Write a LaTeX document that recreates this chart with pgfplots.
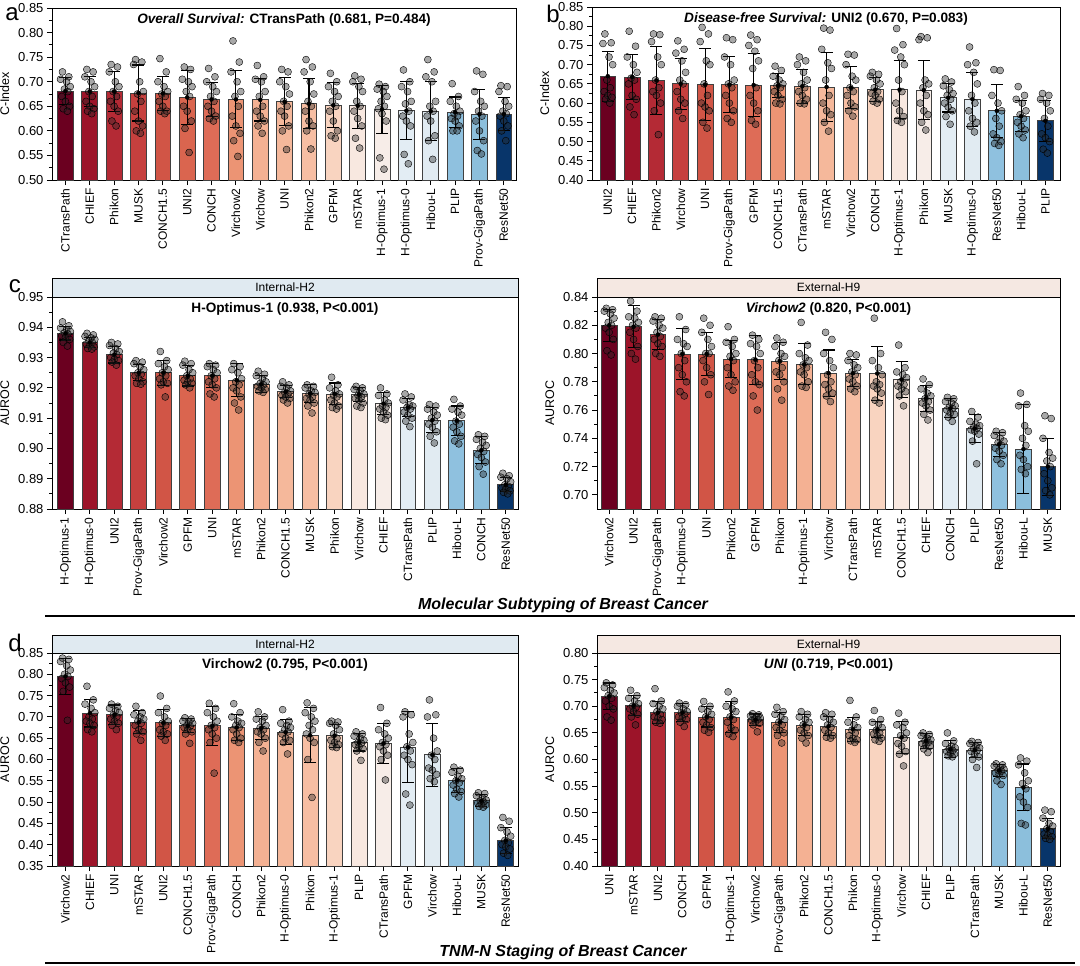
\documentclass[border=0pt]{standalone}
\usepackage{fontspec}
\setmainfont{Liberation Sans}
\usepackage{pgfplots}
\usepackage{pgfplotstable}
\pgfplotsset{compat=1.18}

% rank colours, dark red -> dark blue
\definecolor{c0}{HTML}{6B0020}
\definecolor{c1}{HTML}{9C1429}
\definecolor{c2}{HTML}{B42A35}
\definecolor{c3}{HTML}{C6403E}
\definecolor{c4}{HTML}{D15546}
\definecolor{c5}{HTML}{DA654F}
\definecolor{c6}{HTML}{DE6C57}
\definecolor{c7}{HTML}{EC9474}
\definecolor{c8}{HTML}{F4B193}
\definecolor{c9}{HTML}{F5B89B}
\definecolor{c10}{HTML}{F7BEA3}
\definecolor{c11}{HTML}{F9D4C0}
\definecolor{c12}{HTML}{F8E8E0}
\definecolor{c13}{HTML}{F7EDE8}
\definecolor{c14}{HTML}{E3EDF4}
\definecolor{c15}{HTML}{E1EBF2}
\definecolor{c16}{HTML}{8FC1DF}
\definecolor{c17}{HTML}{8CBFDC}
\definecolor{c18}{HTML}{08356A}
\definecolor{stripblue}{HTML}{E0EAF1}
\definecolor{strippeach}{HTML}{F5E8E2}

% m = mean, e = sd, p1..p12 = single runs
\pgfplotstableread{
m e p1 p2 p3 p4 p5 p6 p7 p8 p9 p10 p11 p12
0.681 0.027 0.72 0.71 0.705 0.70 0.69 0.685 0.68 0.67 0.66 0.65 0.645 0.64
0.680 0.030 0.725 0.72 0.71 0.70 0.69 0.68 0.67 0.66 0.65 0.645 0.64 0.635
0.680 0.040 0.735 0.73 0.72 0.70 0.69 0.68 0.67 0.66 0.65 0.64 0.62 0.61
0.677 0.057 0.745 0.74 0.735 0.70 0.68 0.675 0.66 0.64 0.62 0.61 0.60 0.595
0.676 0.035 0.747 0.72 0.70 0.69 0.68 0.675 0.67 0.66 0.65 0.64 0.64 0.635
0.668 0.055 0.73 0.725 0.705 0.70 0.69 0.68 0.67 0.65 0.64 0.62 0.605 0.556
0.664 0.034 0.727 0.71 0.70 0.69 0.68 0.67 0.66 0.65 0.64 0.63 0.625 0.62
0.664 0.058 0.783 0.74 0.72 0.70 0.68 0.67 0.65 0.63 0.61 0.595 0.58 0.548
0.663 0.043 0.733 0.71 0.705 0.70 0.68 0.67 0.65 0.64 0.63 0.62 0.61 0.595
0.659 0.049 0.725 0.72 0.70 0.69 0.675 0.66 0.65 0.64 0.63 0.61 0.60 0.562
0.655 0.051 0.745 0.73 0.72 0.70 0.675 0.66 0.65 0.64 0.62 0.61 0.60 0.563
0.652 0.046 0.717 0.70 0.69 0.68 0.67 0.66 0.65 0.64 0.62 0.60 0.59 0.585
0.651 0.046 0.712 0.705 0.70 0.69 0.68 0.66 0.65 0.64 0.625 0.61 0.585 0.565
0.644 0.049 0.695 0.69 0.685 0.68 0.67 0.66 0.65 0.645 0.635 0.62 0.545 0.522
0.641 0.059 0.724 0.70 0.69 0.68 0.66 0.655 0.64 0.63 0.62 0.61 0.552 0.533
0.640 0.060 0.745 0.72 0.71 0.70 0.66 0.65 0.64 0.63 0.62 0.59 0.58 0.542
0.638 0.031 0.696 0.67 0.66 0.65 0.64 0.635 0.63 0.625 0.62 0.61 0.60 0.60
0.634 0.051 0.722 0.715 0.68 0.66 0.65 0.64 0.63 0.62 0.60 0.58 0.56 0.553
0.634 0.033 0.692 0.69 0.68 0.66 0.65 0.64 0.635 0.63 0.62 0.61 0.60 0.58
}\ta

\pgfplotstableread{
m e p1 p2 p3 p4 p5 p6 p7 p8 p9 p10 p11 p12
0.670 0.065 0.78 0.757 0.755 0.72 0.70 0.66 0.64 0.63 0.62 0.615 0.61 0.60
0.668 0.058 0.787 0.748 0.72 0.70 0.68 0.665 0.66 0.65 0.62 0.61 0.59 0.57
0.659 0.089 0.78 0.778 0.76 0.72 0.70 0.66 0.64 0.63 0.62 0.60 0.58 0.518
0.650 0.066 0.762 0.74 0.73 0.71 0.68 0.66 0.65 0.63 0.61 0.60 0.58 0.56
0.648 0.094 0.797 0.78 0.76 0.71 0.70 0.65 0.62 0.60 0.59 0.58 0.55 0.535
0.648 0.073 0.77 0.765 0.72 0.70 0.66 0.65 0.64 0.62 0.60 0.58 0.56 0.55
0.647 0.081 0.777 0.765 0.75 0.735 0.71 0.69 0.64 0.62 0.60 0.58 0.555 0.545
0.645 0.031 0.696 0.685 0.67 0.66 0.65 0.645 0.64 0.63 0.62 0.61 0.60 0.598
0.644 0.044 0.72 0.71 0.70 0.68 0.66 0.65 0.64 0.63 0.62 0.61 0.60 0.598
0.642 0.090 0.795 0.79 0.74 0.705 0.69 0.66 0.62 0.60 0.58 0.57 0.55 0.527
0.640 0.055 0.727 0.725 0.70 0.67 0.66 0.64 0.63 0.62 0.60 0.59 0.58 0.566
0.635 0.031 0.68 0.675 0.67 0.66 0.65 0.64 0.63 0.625 0.62 0.61 0.605 0.60
0.635 0.076 0.794 0.752 0.738 0.72 0.70 0.66 0.63 0.60 0.58 0.565 0.555 0.55
0.634 0.077 0.773 0.77 0.765 0.66 0.65 0.64 0.62 0.60 0.58 0.57 0.55 0.53
0.614 0.037 0.663 0.655 0.645 0.635 0.625 0.62 0.61 0.60 0.59 0.58 0.565 0.545
0.610 0.070 0.746 0.705 0.70 0.68 0.65 0.62 0.60 0.58 0.56 0.55 0.54 0.525
0.580 0.069 0.687 0.685 0.62 0.60 0.58 0.56 0.54 0.52 0.51 0.50 0.495 0.49
0.566 0.040 0.643 0.62 0.61 0.60 0.58 0.57 0.56 0.55 0.54 0.53 0.52 0.51
0.554 0.053 0.625 0.62 0.61 0.60 0.58 0.56 0.54 0.52 0.51 0.50 0.48 0.47
}\tb

\pgfplotstableread{
m e p1 p2 p3 p4 p5 p6 p7 p8 p9 p10 p11 p12
0.938 0.0022 0.9418 0.9405 0.9398 0.9392 0.9386 0.9382 0.9378 0.9372 0.9366 0.9360 0.9350 0.9338
0.935 0.0017 0.938 0.9375 0.937 0.9365 0.936 0.9355 0.935 0.9345 0.934 0.9335 0.933 0.9328
0.931 0.0028 0.935 0.9345 0.934 0.933 0.932 0.9315 0.931 0.930 0.9295 0.929 0.9285 0.9275
0.925 0.0027 0.929 0.9285 0.928 0.927 0.926 0.925 0.9245 0.924 0.923 0.922 0.9215 0.9212
0.925 0.0041 0.932 0.929 0.928 0.927 0.926 0.925 0.924 0.923 0.922 0.9215 0.921 0.917
0.924 0.0034 0.9288 0.928 0.9275 0.926 0.925 0.924 0.923 0.9225 0.922 0.9215 0.921 0.920
0.924 0.0040 0.928 0.9275 0.927 0.926 0.925 0.924 0.923 0.922 0.921 0.920 0.918 0.917
0.9225 0.0055 0.928 0.927 0.926 0.925 0.923 0.922 0.921 0.920 0.919 0.917 0.915 0.9127
0.9212 0.0028 0.9255 0.9245 0.924 0.923 0.922 0.9215 0.921 0.9205 0.920 0.9195 0.919 0.9185
0.9187 0.0020 0.922 0.921 0.9205 0.920 0.919 0.9185 0.918 0.9175 0.917 0.9165 0.916 0.915
0.9181 0.0029 0.921 0.9205 0.920 0.919 0.9185 0.918 0.917 0.9165 0.916 0.915 0.914 0.9117
0.9180 0.0036 0.9235 0.921 0.920 0.919 0.918 0.9175 0.917 0.916 0.915 0.914 0.9135 0.913
0.9178 0.0024 0.9205 0.920 0.9195 0.919 0.918 0.9175 0.917 0.9165 0.916 0.915 0.914 0.9135
0.9148 0.0036 0.920 0.918 0.9175 0.916 0.915 0.914 0.9135 0.913 0.912 0.911 0.910 0.9095
0.9135 0.0031 0.918 0.917 0.916 0.9145 0.914 0.9135 0.913 0.912 0.911 0.910 0.909 0.9072
0.9094 0.0042 0.9145 0.914 0.913 0.912 0.911 0.910 0.909 0.908 0.907 0.9055 0.904 0.9018
0.9091 0.0049 0.9162 0.914 0.913 0.912 0.911 0.909 0.908 0.907 0.9055 0.904 0.9025 0.9015
0.8994 0.0045 0.9045 0.904 0.903 0.902 0.901 0.900 0.899 0.898 0.897 0.8955 0.894 0.8915
0.8880 0.0023 0.8918 0.891 0.8905 0.890 0.889 0.888 0.8875 0.887 0.8865 0.886 0.8855 0.885
}\tc

\pgfplotstableread{
m e p1 p2 p3 p4 p5 p6 p7 p8 p9 p10 p11 p12
0.8200 0.0114 0.832 0.831 0.83 0.828 0.825 0.822 0.82 0.818 0.815 0.81 0.802 0.799
0.8190 0.0148 0.837 0.83 0.826 0.825 0.822 0.82 0.818 0.815 0.81 0.805 0.80 0.796
0.8134 0.0105 0.826 0.825 0.823 0.82 0.818 0.815 0.812 0.81 0.807 0.805 0.80 0.798
0.7997 0.0180 0.826 0.817 0.81 0.807 0.805 0.80 0.795 0.79 0.785 0.78 0.773 0.77
0.7997 0.0155 0.825 0.82 0.815 0.81 0.805 0.80 0.80 0.795 0.79 0.785 0.78 0.771
0.7961 0.0131 0.819 0.81 0.808 0.805 0.80 0.798 0.795 0.79 0.785 0.78 0.777 0.774
0.7956 0.0173 0.813 0.81 0.807 0.805 0.80 0.795 0.79 0.785 0.78 0.778 0.77 0.76
0.7947 0.0128 0.811 0.808 0.805 0.80 0.798 0.795 0.79 0.787 0.785 0.78 0.775 0.767
0.7923 0.0145 0.822 0.806 0.80 0.797 0.795 0.792 0.79 0.787 0.785 0.78 0.777 0.776
0.7861 0.0164 0.815 0.81 0.80 0.795 0.79 0.785 0.78 0.778 0.775 0.772 0.77 0.766
0.7861 0.0094 0.80 0.799 0.795 0.792 0.79 0.787 0.785 0.782 0.78 0.777 0.775 0.773
0.7859 0.0189 0.825 0.80 0.795 0.79 0.785 0.78 0.778 0.777 0.775 0.772 0.767 0.765
0.7816 0.0125 0.806 0.79 0.787 0.785 0.783 0.78 0.778 0.777 0.775 0.773 0.77 0.763
0.7683 0.0094 0.782 0.778 0.775 0.772 0.77 0.768 0.766 0.765 0.763 0.76 0.757 0.753
0.7612 0.0067 0.769 0.768 0.766 0.765 0.763 0.762 0.761 0.76 0.758 0.757 0.755 0.752
0.7469 0.0098 0.759 0.755 0.752 0.75 0.749 0.748 0.747 0.746 0.745 0.743 0.738 0.722
0.7359 0.0085 0.745 0.744 0.742 0.74 0.738 0.737 0.735 0.733 0.731 0.728 0.725 0.722
0.7324 0.0316 0.772 0.764 0.763 0.749 0.745 0.74 0.735 0.728 0.725 0.72 0.718 0.715
0.7200 0.0202 0.756 0.754 0.74 0.73 0.726 0.724 0.72 0.715 0.71 0.705 0.703 0.70
}\td

\pgfplotstableread{
m e p1 p2 p3 p4 p5 p6 p7 p8 p9 p10 p11 p12
0.795 0.0415 0.838 0.835 0.83 0.82 0.81 0.80 0.795 0.79 0.78 0.77 0.76 0.692
0.709 0.0326 0.772 0.74 0.73 0.72 0.71 0.70 0.695 0.69 0.685 0.68 0.67 0.665
0.705 0.0230 0.73 0.725 0.72 0.715 0.71 0.705 0.70 0.695 0.69 0.685 0.68 0.67
0.688 0.0270 0.725 0.71 0.705 0.70 0.695 0.69 0.685 0.68 0.67 0.665 0.66 0.645
0.686 0.0317 0.749 0.72 0.71 0.70 0.69 0.685 0.68 0.67 0.665 0.66 0.655 0.645
0.679 0.0163 0.698 0.695 0.69 0.688 0.685 0.68 0.678 0.675 0.67 0.665 0.66 0.638
0.679 0.0456 0.732 0.72 0.71 0.70 0.69 0.68 0.675 0.67 0.66 0.65 0.64 0.568
0.675 0.0310 0.731 0.71 0.70 0.69 0.685 0.68 0.675 0.67 0.66 0.65 0.645 0.64
0.674 0.0280 0.712 0.70 0.695 0.69 0.68 0.675 0.67 0.665 0.66 0.65 0.64 0.62
0.664 0.0290 0.717 0.69 0.685 0.68 0.675 0.67 0.665 0.66 0.65 0.645 0.64 0.613
0.657 0.0650 0.733 0.72 0.71 0.70 0.69 0.68 0.67 0.66 0.65 0.64 0.60 0.511
0.656 0.0270 0.69 0.688 0.685 0.68 0.67 0.66 0.65 0.645 0.64 0.635 0.63 0.628
0.640 0.0200 0.665 0.66 0.655 0.65 0.645 0.64 0.638 0.635 0.63 0.625 0.62 0.598
0.638 0.0468 0.722 0.685 0.67 0.66 0.65 0.64 0.635 0.63 0.62 0.61 0.60 0.552
0.629 0.0837 0.712 0.705 0.70 0.66 0.64 0.63 0.62 0.61 0.60 0.588 0.519 0.493
0.611 0.0738 0.74 0.705 0.70 0.65 0.62 0.61 0.60 0.58 0.575 0.565 0.555 0.548
0.551 0.0286 0.582 0.575 0.57 0.56 0.555 0.55 0.545 0.54 0.53 0.525 0.52 0.512
0.503 0.0143 0.522 0.52 0.515 0.51 0.505 0.503 0.50 0.498 0.495 0.493 0.49 0.488
0.410 0.0302 0.464 0.455 0.44 0.43 0.42 0.41 0.405 0.40 0.395 0.39 0.38 0.375
}\te

\pgfplotstableread{
m e p1 p2 p3 p4 p5 p6 p7 p8 p9 p10 p11 p12
0.7190 0.0246 0.744 0.74 0.735 0.73 0.725 0.72 0.715 0.71 0.70 0.695 0.68 0.674
0.7010 0.0186 0.73 0.72 0.715 0.71 0.705 0.70 0.698 0.695 0.69 0.685 0.68 0.665
0.6883 0.0200 0.733 0.71 0.705 0.70 0.695 0.69 0.685 0.68 0.678 0.675 0.67 0.668
0.6883 0.0170 0.706 0.703 0.70 0.695 0.69 0.688 0.685 0.68 0.678 0.675 0.67 0.662
0.6800 0.0190 0.709 0.70 0.695 0.69 0.685 0.68 0.675 0.67 0.665 0.66 0.655 0.651
0.6794 0.0290 0.727 0.71 0.70 0.695 0.69 0.68 0.675 0.67 0.66 0.655 0.648 0.643
0.6750 0.0104 0.686 0.684 0.682 0.68 0.678 0.676 0.675 0.673 0.67 0.668 0.665 0.652
0.6700 0.0187 0.698 0.69 0.685 0.68 0.675 0.67 0.665 0.66 0.655 0.65 0.645 0.631
0.6649 0.0193 0.69 0.685 0.68 0.675 0.67 0.665 0.66 0.655 0.65 0.645 0.64 0.631
0.6624 0.0180 0.688 0.685 0.68 0.675 0.67 0.665 0.66 0.655 0.65 0.645 0.642 0.64
0.6567 0.0224 0.711 0.68 0.67 0.665 0.66 0.655 0.65 0.645 0.64 0.637 0.635 0.632
0.6560 0.0150 0.692 0.675 0.67 0.665 0.66 0.655 0.65 0.648 0.645 0.64 0.637 0.634
0.6415 0.0300 0.687 0.67 0.665 0.66 0.65 0.645 0.64 0.63 0.625 0.615 0.61 0.588
0.6346 0.0136 0.65 0.647 0.645 0.64 0.637 0.635 0.632 0.63 0.627 0.625 0.62 0.613
0.6194 0.0155 0.65 0.635 0.63 0.625 0.622 0.62 0.617 0.615 0.612 0.61 0.607 0.605
0.6176 0.0142 0.634 0.632 0.63 0.625 0.622 0.62 0.617 0.615 0.61 0.605 0.60 0.585
0.5796 0.0114 0.592 0.59 0.588 0.585 0.582 0.58 0.578 0.575 0.572 0.57 0.56 0.553
0.5475 0.0440 0.603 0.597 0.59 0.575 0.56 0.555 0.545 0.53 0.52 0.51 0.48 0.477
0.4700 0.0186 0.505 0.502 0.49 0.48 0.475 0.47 0.465 0.46 0.458 0.455 0.452 0.45
}\tf

% horizontal spread of the single runs around each bar
\newcommand\jit[1]{\ifcase#1\or-0.12\or0.14\or-0.20\or0.05\or0.20\or-0.04\or0.10\or-0.15\or0.00\or0.17\or-0.09\or0.08\fi}

\newcommand\bars[1]{%
  \pgfplotsinvokeforeach{0,...,18}{
    \addplot[ybar, bar width=0.65, bar shift=0pt, fill=c##1, draw=black!75, line width=0.8pt]
      table[x expr=\coordindex, y=m, restrict x to domain=##1:##1]{#1};
  }
  \pgfplotsinvokeforeach{1,...,12}{
    \addplot[only marks, mark=*, mark size=3.5pt, mark options={draw=none, fill=black!85, fill opacity=0.4}]
      table[x expr=\coordindex+(\jit{##1}), y=p##1]{#1};
  }
  \addplot[only marks, mark=none, error bars/.cd, y dir=both, y explicit,
    error bar style={line width=1.1pt, black},
    error mark options={rotate=90, mark size=6pt, line width=1.1pt, black}]
    table[x expr=\coordindex, y=m, y error=e]{#1};
}

\newcommand\ptitle[1]{\node[anchor=north, font=\bfseries\fontsize{13.6}{15}\selectfont, inner sep=0pt]
  at ([yshift=-5pt]rel axis cs:0.5,1) {#1};}

\pgfplotsset{
  fm/.style={
    scale only axis, anchor=south west, clip=false,
    xmin=-0.55, xmax=18.5, xtick={0,...,18},
    tick align=outside, xtick pos=left, ytick pos=left,
    major tick length=5pt, minor tick length=3pt, minor y tick num=1,
    axis line style={line width=1pt}, tick style={black, line width=0.9pt},
    x tick label style={rotate=90, anchor=east, font=\fontsize{12}{12}\selectfont},
    y tick label style={font=\fontsize{13}{13}\selectfont},
    yticklabel style={/pgf/number format/.cd, fixed, fixed zerofill, precision=2},
    /pgf/number format/assume math mode=true,
    ylabel style={font=\fontsize{12.5}{13}\selectfont, yshift=2pt},
  },
}

\begin{document}
\begin{tikzpicture}
\useasboundingbox (0,0) rectangle (1080pt,-966pt);

% a
\begin{axis}[fm, at={(52pt,-180pt)}, width=464pt, height=172pt,
  ymin=0.5, ymax=0.85, ytick={0.5,0.55,0.6,0.65,0.7,0.75,0.8,0.85}, ylabel={C-Index},
  xticklabels={CTransPath,CHIEF,Phikon,MUSK,CONCH1.5,UNI2,CONCH,Virchow2,Virchow,UNI,Phikon2,GPFM,mSTAR,H-Optimus-1,H-Optimus-0,Hibou-L,PLIP,Prov-GigaPath,ResNet50}]
\bars{\ta}
\ptitle{\textit{Overall Survival:} CTransPath (0.681, P=0.484)}
\end{axis}

% b
\begin{axis}[fm, at={(592pt,-180pt)}, width=468pt, height=173pt, xmin=-0.65, xmax=18.6,
  ymin=0.4, ymax=0.85, ytick={0.4,0.45,0.5,0.55,0.6,0.65,0.7,0.75,0.8,0.85}, ylabel={C-Index},
  xticklabels={UNI2,CHIEF,Phikon2,Virchow,UNI,Prov-GigaPath,GPFM,CONCH1.5,CTransPath,mSTAR,Virchow2,CONCH,H-Optimus-1,Phikon,MUSK,H-Optimus-0,ResNet50,Hibou-L,PLIP}]
\bars{\tb}
\ptitle{\textit{Disease-free Survival:} UNI2 (0.670, P=0.083)}
\end{axis}

% c, internal
\begin{axis}[fm, at={(52pt,-509pt)}, width=466pt, height=212pt,
  ymin=0.88, ymax=0.95, ytick={0.88,0.89,0.9,0.91,0.92,0.93,0.94,0.95}, ylabel={AUROC},
  xticklabels={H-Optimus-1,H-Optimus-0,UNI2,Prov-GigaPath,Virchow2,GPFM,UNI,mSTAR,Phikon2,CONCH1.5,MUSK,Phikon,Virchow,CHIEF,CTransPath,PLIP,Hibou-L,CONCH,ResNet50}]
\bars{\tc}
\ptitle{H-Optimus-1 (0.938, P<0.001)}
\end{axis}

% c, external
\begin{axis}[fm, at={(597pt,-509pt)}, width=463pt, height=212pt, xmin=-0.5, xmax=18.5,
  ymin=0.69, ymax=0.84, ytick={0.7,0.72,0.74,0.76,0.78,0.8,0.82,0.84}, ylabel={AUROC},
  xticklabels={Virchow2,UNI2,Prov-GigaPath,H-Optimus-0,UNI,Phikon2,GPFM,Phikon,H-Optimus-1,Virchow,CTransPath,mSTAR,CONCH1.5,CHIEF,CONCH,PLIP,ResNet50,Hibou-L,MUSK}]
\bars{\td}
\ptitle{\textit{Virchow2} (0.820, P<0.001)}
\end{axis}

% d, internal
\begin{axis}[fm, at={(52pt,-866pt)}, width=466pt, height=213pt,
  ymin=0.35, ymax=0.85, ytick={0.35,0.4,0.45,0.5,0.55,0.6,0.65,0.7,0.75,0.8,0.85}, ylabel={AUROC},
  xticklabels={Virchow2,CHIEF,UNI,mSTAR,UNI2,CONCH1.5,Prov-GigaPath,CONCH,Phikon2,H-Optimus-0,Phikon,H-Optimus-1,PLIP,CTransPath,GPFM,Virchow,Hibou-L,MUSK,ResNet50}]
\bars{\te}
\ptitle{Virchow2 (0.795, P<0.001)}
\end{axis}

% d, external
\begin{axis}[fm, at={(597pt,-866pt)}, width=463pt, height=213pt, xmin=-0.5, xmax=18.5,
  ymin=0.4, ymax=0.8, ytick={0.4,0.45,0.5,0.55,0.6,0.65,0.7,0.75,0.8}, ylabel={AUROC},
  xticklabels={UNI,mSTAR,UNI2,CONCH,GPFM,H-Optimus-1,Virchow2,Prov-GigaPath,Phikon2,CONCH1.5,Phikon,H-Optimus-0,Virchow,CHIEF,PLIP,CTransPath,MUSK,Hibou-L,ResNet50}]
\bars{\tf}
\ptitle{\textit{UNI} (0.719, P<0.001)}
\end{axis}

% strip headers
\begin{scope}[line width=0.8pt, font=\fontsize{12}{12}\selectfont]
\draw[fill=stripblue] (52pt,-278pt) rectangle (518pt,-297pt);
\node at (285pt,-287.5pt) {Internal-H2};
\draw[fill=strippeach] (597pt,-278pt) rectangle (1060pt,-297pt);
\node at (828.5pt,-287.5pt) {External-H9};
\draw[fill=stripblue] (52pt,-635pt) rectangle (518pt,-653pt);
\node at (285pt,-644pt) {Internal-H2};
\draw[fill=strippeach] (597pt,-635pt) rectangle (1060pt,-653pt);
\node at (828.5pt,-644pt) {External-H9};
\end{scope}

% panel letters
\begin{scope}[font=\fontsize{24}{24}\selectfont]
\node at (12pt,-14pt) {a};
\node at (553pt,-14pt) {b};
\node at (15pt,-286pt) {c};
\node at (15pt,-643pt) {d};
\end{scope}

% section titles
\node[font=\bfseries\itshape\fontsize{16}{16}\selectfont] at (563pt,-605pt) {Molecular Subtyping of Breast Cancer};
\draw[line width=2pt] (45pt,-616pt) -- (1075pt,-616pt);
\node[font=\bfseries\itshape\fontsize{16}{16}\selectfont] at (563pt,-952pt) {TNM-N Staging of Breast Cancer};
\draw[line width=2pt] (45pt,-963pt) -- (1075pt,-963pt);
\end{tikzpicture}
\end{document}
